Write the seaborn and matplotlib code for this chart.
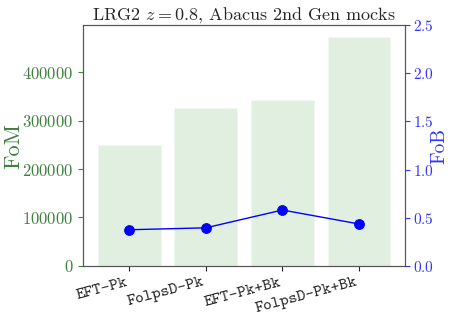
import matplotlib
matplotlib.use("Agg")
import matplotlib.pyplot as plt
import seaborn as sns
import pandas as pd

models = ["EFT-Pk", "FolpsD-Pk", "EFT-Pk+Bk", "FolpsD-Pk+Bk"]
fom = [249000, 327000, 343000, 474000]
fob = [0.375, 0.395, 0.58, 0.435]

sns.set_style("ticks")
plt.rcParams["font.family"] = ["serif"]
plt.rcParams["font.serif"] = ["cmr10", "DejaVu Serif"]
plt.rcParams["mathtext.fontset"] = "cm"
plt.rcParams["axes.formatter.use_mathtext"] = True
plt.rcParams["axes.unicode_minus"] = False

df = pd.DataFrame({"model": models, "FoM": fom, "FoB": fob})
df["x"] = range(len(models))

fig, ax = plt.subplots(figsize=(4.5, 3.27), dpi=100)
green = "#3f7f3f"
blue = "#3333ff"

sns.barplot(data=df, x="x", y="FoM", ax=ax, color="green", alpha=0.12,
            width=0.82, native_scale=True, saturation=1)
ax.set_xlim(-0.6, 3.6)
ax.set_ylim(0, max(fom) * 1.05)
ax.set_xticks(df["x"])
ax.set_xticklabels(models, rotation=15, ha="right", family="cmtt10", fontsize=12)
ax.set_xlabel("")
ax.set_ylabel("FoM", color=green, fontsize=16)
ax.yaxis.set_label_coords(-0.185, 0.5)
ax.tick_params(axis="y", colors=green, labelsize=12)

ax2 = ax.twinx()
sns.lineplot(data=df, x="x", y="FoB", ax=ax2, color="blue", marker="o",
             markersize=7, markeredgecolor="blue", linewidth=1)
ax2.set_ylim(0, 2.5)
ax2.set_ylabel("FoB", color=blue, fontsize=14)
ax2.yaxis.set_label_coords(1.078, 0.5)
ax2.tick_params(axis="y", colors=blue, labelsize=11, pad=2)
for a in (ax, ax2):
    for s in a.spines.values():
        s.set_color("#555555")

ax.set_title(r"LRG2 $z = 0.8$, Abacus 2nd Gen mocks", fontsize=13, pad=3)
fig.subplots_adjust(left=0.185, right=0.9, top=0.923, bottom=0.187)
fig.savefig("out.png", dpi=100)
